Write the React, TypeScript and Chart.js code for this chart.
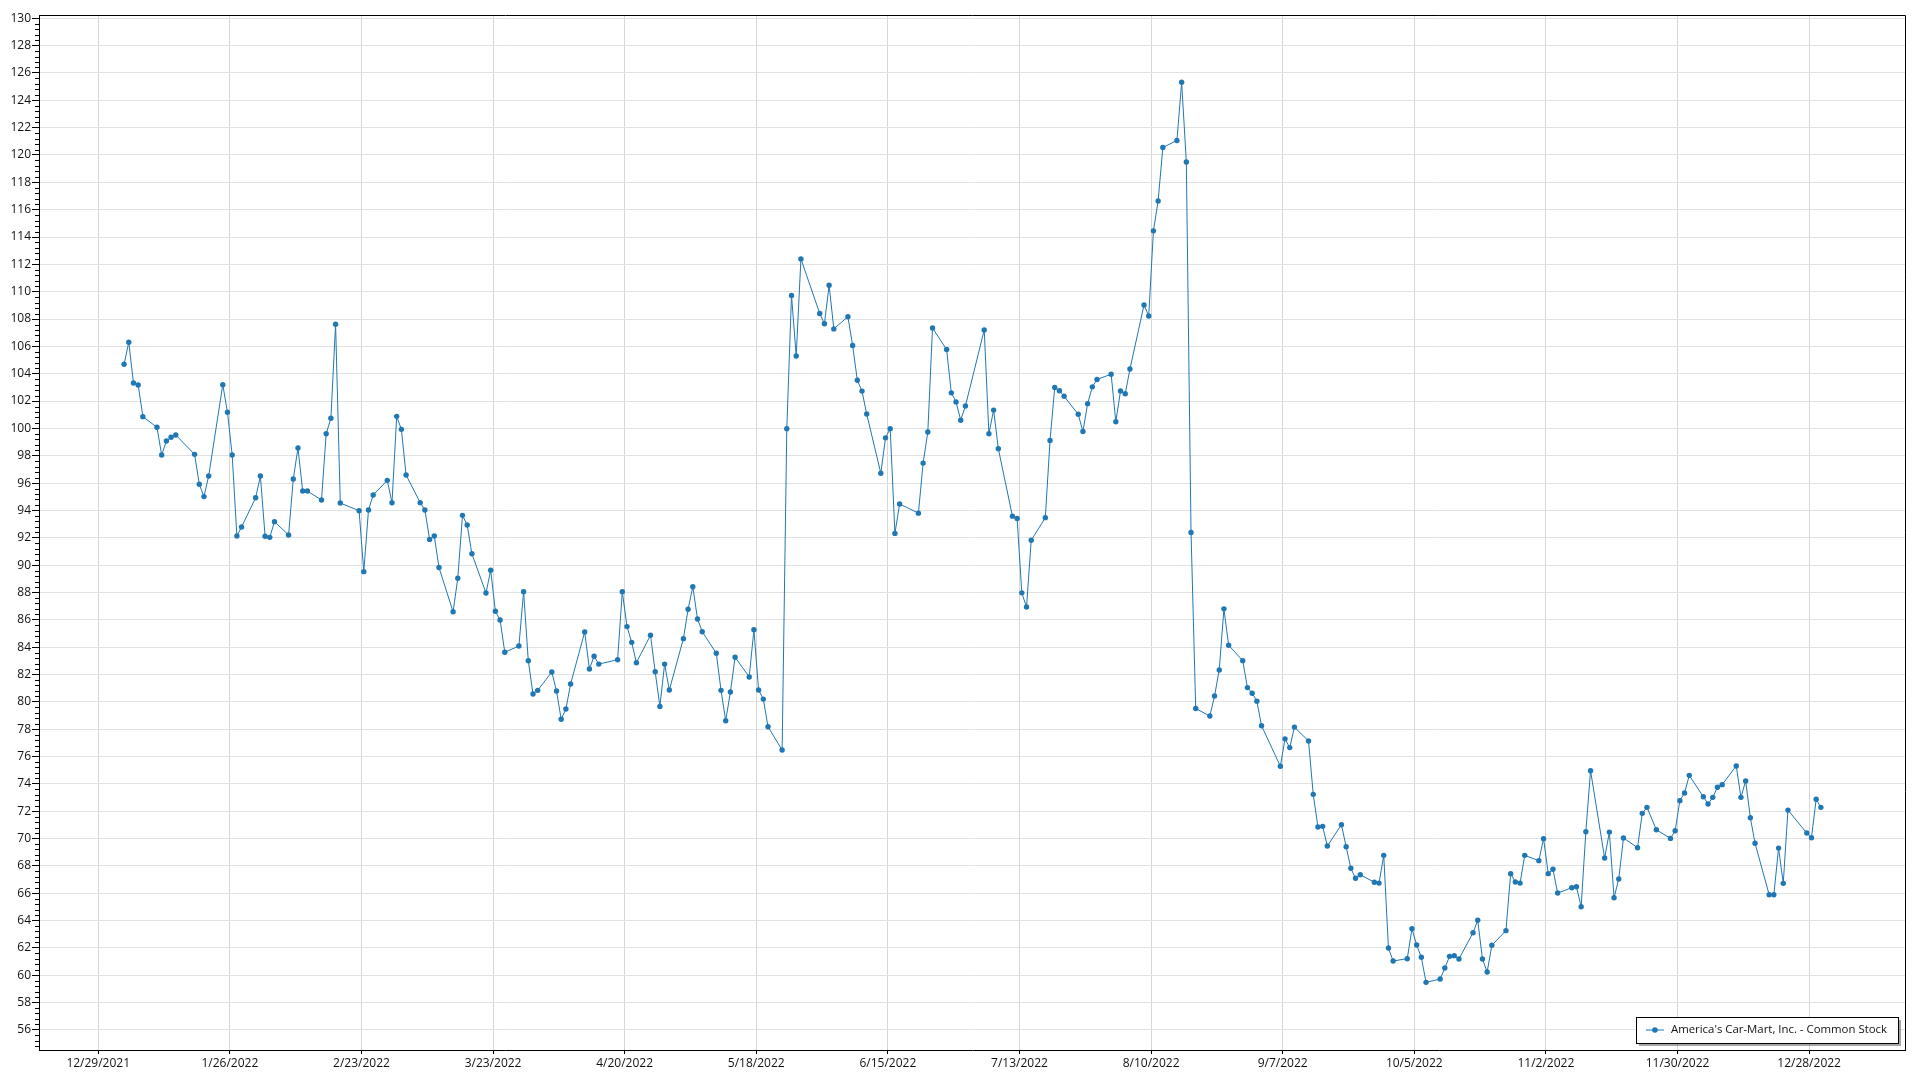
import React, { useEffect, useRef } from "react";
import { Chart, registerables } from "chart.js";

Chart.register(...registerables);

const SERIES_LABEL = "America's Car-Mart, Inc. - Common Stock";
const SERIES_COLOR = "#1f77b4";
const FONT = "'Open Sans', 'Noto Sans', sans-serif";

// Trading days of 2022 (MM-DD)
const tradeDates2022: string[] = [
  "01-03","01-04","01-05","01-06","01-07","01-10","01-11","01-12","01-13","01-14","01-18","01-19","01-20","01-21","01-24","01-25","01-26","01-27","01-28","01-31",
  "02-01","02-02","02-03","02-04","02-07","02-08","02-09","02-10","02-11","02-14","02-15","02-16","02-17","02-18","02-22","02-23","02-24","02-25","02-28",
  "03-01","03-02","03-03","03-04","03-07","03-08","03-09","03-10","03-11","03-14","03-15","03-16","03-17","03-18","03-21","03-22","03-23","03-24","03-25","03-28","03-29","03-30","03-31",
  "04-01","04-04","04-05","04-06","04-07","04-08","04-11","04-12","04-13","04-14","04-18","04-19","04-20","04-21","04-22","04-25","04-26","04-27","04-28","04-29",
  "05-02","05-03","05-04","05-05","05-06","05-09","05-10","05-11","05-12","05-13","05-16","05-17","05-18","05-19","05-20","05-23","05-24","05-25","05-26","05-27","05-31",
  "06-01","06-02","06-03","06-06","06-07","06-08","06-09","06-10","06-13","06-14","06-15","06-16","06-17","06-21","06-22","06-23","06-24","06-27","06-28","06-29","06-30",
  "07-01","07-05","07-06","07-07","07-08","07-11","07-12","07-13","07-14","07-15","07-18","07-19","07-20","07-21","07-22","07-25","07-26","07-27","07-28","07-29",
  "08-01","08-02","08-03","08-04","08-05","08-08","08-09","08-10","08-11","08-12","08-15","08-16","08-17","08-18","08-19","08-22","08-23","08-24","08-25","08-26","08-29","08-30","08-31",
  "09-01","09-02","09-06","09-07","09-08","09-09","09-12","09-13","09-14","09-15","09-16","09-19","09-20","09-21","09-22","09-23","09-26","09-27","09-28","09-29","09-30",
  "10-03","10-04","10-05","10-06","10-07","10-10","10-11","10-12","10-13","10-14","10-17","10-18","10-19","10-20","10-21","10-24","10-25","10-26","10-27","10-28","10-31",
  "11-01","11-02","11-03","11-04","11-07","11-08","11-09","11-10","11-11","11-14","11-15","11-16","11-17","11-18","11-21","11-22","11-23","11-25","11-28","11-29","11-30",
  "12-01","12-02","12-05","12-06","12-07","12-08","12-09","12-12","12-13","12-14","12-15","12-16","12-19","12-20","12-21","12-22","12-23","12-27","12-28","12-29","12-30",
];

// Closing prices
const closePrices: number[] = [
  104.69, 106.30, 103.32, 103.18, 100.86,
  100.08, 98.05, 99.08, 99.35, 99.52,
  98.10, 95.91, 95.01, 96.52,
  103.20, 101.18, 98.05, 92.13, 92.79,
  94.93, 96.52, 92.11, 92.03, 93.18,
  92.20, 96.30, 98.57, 95.42, 95.42,
  94.76, 99.61, 100.74, 107.62, 94.54,
  93.98, 89.52, 94.03, 95.13,
  96.20, 94.56, 100.88, 99.93, 96.59,
  94.57, 94.03, 91.88, 92.13, 89.82,
  86.59, 89.04, 93.64, 92.93, 90.83,
  87.96, 89.62, 86.62, 85.98, 83.62,
  84.08, 88.05, 83.01, 80.57, 80.84,
  82.18, 80.79, 78.72, 79.47, 81.30,
  85.11, 82.40, 83.33, 82.76,
  83.08, 88.05, 85.50, 84.35, 82.86,
  84.87, 82.20, 79.66, 82.76, 80.86,
  84.62, 86.77, 88.42, 86.06, 85.13,
  83.55, 80.84, 78.62, 80.72, 83.26,
  81.82, 85.28, 80.86, 80.20, 78.18,
  76.47, 99.98, 109.73, 105.30, 112.40,
  108.41, 107.65, 110.47, 107.28,
  108.17, 106.07, 103.52, 102.73, 101.05,
  96.72, 99.31, 99.98, 92.32, 94.47,
  93.80, 97.46, 99.74, 107.35,
  105.77, 102.60, 101.94, 100.60, 101.64,
  107.20, 99.61, 101.34, 98.52,
  93.58, 93.41, 87.97, 86.93, 91.82,
  93.47, 99.11, 103.00, 102.75, 102.35,
  101.03, 99.77, 101.81, 103.04, 103.58,
  103.96, 100.49, 102.74, 102.53, 104.34,
  109.03, 108.22, 114.45, 116.64, 120.55,
  121.06, 125.32, 119.49, 92.38, 79.51,
  78.96, 80.42, 82.33, 86.80, 84.14,
  83.01, 81.04, 80.63, 80.05, 78.25,
  75.29, 77.29, 76.65, 78.15,
  77.13, 73.23, 70.84, 70.89, 69.45,
  71.01, 69.40, 67.82, 67.09, 67.35,
  66.80, 66.74, 68.77, 61.99, 61.04,
  61.21, 63.40, 62.21, 61.31, 59.48,
  59.72, 60.53, 61.38, 61.43, 61.19,
  63.11, 64.02, 61.19, 60.24, 62.19,
  63.26, 67.43, 66.82, 66.74, 68.77,
  68.38, 69.99, 67.43, 67.75, 66.01,
  66.40, 66.47, 65.01, 70.50, 74.96,
  68.57, 70.47, 65.67, 67.04, 70.04,
  69.33, 71.84, 72.28, 70.64,
  70.01, 70.57, 72.77, 73.33, 74.62,
  73.06, 72.53, 73.01, 73.75, 73.94,
  75.31, 73.01, 74.21, 71.52, 69.65,
  65.89, 65.89, 69.30, 66.72, 72.08,
  70.40, 70.06, 72.87, 72.28,
];

const xTickLabels: string[] = [
  "12/29/2021", "1/26/2022", "2/23/2022", "3/23/2022", "4/20/2022", "5/18/2022", "6/15/2022",
  "7/13/2022", "8/10/2022", "9/7/2022", "10/5/2022", "11/2/2022", "11/30/2022", "12/28/2022",
];

const yTickValues: number[] = [
  56, 58, 60, 62, 64, 66, 68, 70, 72, 74, 76, 78, 80, 82, 84, 86, 88, 90, 92,
  94, 96, 98, 100, 102, 104, 106, 108, 110, 112, 114, 116, 118, 120, 122, 124, 126, 128, 130,
];

const ORIGIN_MS = Date.UTC(2021, 11, 29);
const DAY_MS = 86400000;

function dayFromMDY(s: string): number {
  const [m, d, y] = s.split("/").map(Number);
  return (Date.UTC(y, m - 1, d) - ORIGIN_MS) / DAY_MS;
}
function dayFrom2022(s: string): number {
  const [m, d] = s.split("-").map(Number);
  // quotes stamped at noon
  return (Date.UTC(2022, m - 1, d) - ORIGIN_MS) / DAY_MS + 0.5;
}

const xTickDays = xTickLabels.map(dayFromMDY);

const frame = {
  id: "frame",
  afterDraw(chart: any) {
    const { ctx, chartArea } = chart;
    const y = chart.scales.y;
    ctx.save();
    ctx.strokeStyle = "#000";
    ctx.lineWidth = 1;
    // top & right borders
    ctx.beginPath();
    ctx.moveTo(chartArea.left, chartArea.top + 0.5);
    ctx.lineTo(chartArea.right + 0.5, chartArea.top + 0.5);
    ctx.lineTo(chartArea.right + 0.5, chartArea.bottom);
    ctx.stroke();
    // minor y ticks (5 subdivisions)
    ctx.beginPath();
    const majors = yTickValues;
    const step = (majors[1] - majors[0]) / 5;
    const first = majors[0] - 5 * step;
    for (let v = first; v <= y.max + 1e-6; v += step) {
      if (v < y.min) continue;
      const rel = Math.round((v - majors[0]) / step);
      if (rel % 5 === 0) continue;
      const p = Math.round(y.getPixelForValue(v)) + 0.5;
      ctx.moveTo(chartArea.left - 4, p);
      ctx.lineTo(chartArea.left, p);
    }
    ctx.stroke();

    // legend box bottom-right
    const label = chart.data.datasets[0].label;
    ctx.font = `11.4px ${FONT}`;
    const tw = ctx.measureText(label).width;
    const bw = tw + 46;
    const bh = 26;
    const bx = chartArea.right - 7 - bw;
    const by = chartArea.bottom - 7 - bh;
    ctx.fillStyle = "rgba(0,0,0,0.35)";
    ctx.fillRect(bx + 3, by + 3, bw, bh);
    ctx.fillStyle = "#fff";
    ctx.fillRect(bx, by, bw, bh);
    ctx.strokeStyle = "#000";
    ctx.strokeRect(Math.round(bx) + 0.5, Math.round(by) + 0.5, Math.round(bw), bh);
    const cy = by + bh / 2;
    ctx.strokeStyle = SERIES_COLOR;
    ctx.beginPath();
    ctx.moveTo(bx + 10, cy);
    ctx.lineTo(bx + 28, cy);
    ctx.stroke();
    ctx.fillStyle = SERIES_COLOR;
    ctx.beginPath();
    ctx.arc(bx + 19, cy, 2.8, 0, Math.PI * 2);
    ctx.fill();
    ctx.fillStyle = "#111";
    ctx.textBaseline = "middle";
    ctx.textAlign = "left";
    ctx.fillText(label, bx + 35, cy);
    ctx.restore();
  },
};

export default function App() {
  const ref = useRef<HTMLCanvasElement | null>(null);

  useEffect(() => {
    if (!ref.current) return;
    const points = tradeDates2022.map((d, i) => ({ x: dayFrom2022(d), y: closePrices[i] }));
    const chart = new Chart(ref.current, {
      type: "line",
      data: {
        datasets: [
          {
            label: SERIES_LABEL,
            data: points,
            borderColor: SERIES_COLOR,
            backgroundColor: SERIES_COLOR,
            borderWidth: 1,
            pointRadius: 2.7,
            pointBorderWidth: 0,
            pointBackgroundColor: SERIES_COLOR,
            tension: 0,
          },
        ],
      },
      options: {
        animation: false,
        responsive: false,
        devicePixelRatio: 1,
        events: [],
        layout: { padding: { left: 0, top: 15, right: 15, bottom: 0 } },
        plugins: {
          legend: { display: false },
          tooltip: { enabled: false },
          title: { display: false },
        },
        scales: {
          x: {
            type: "linear",
            min: -12.6,
            max: 384.4,
            afterFit: (s: any) => { s.height = 30; },
            afterBuildTicks: (s: any) => { s.ticks = xTickDays.map((v) => ({ value: v })); },
            ticks: {
              autoSkip: false,
              maxRotation: 0,
              padding: 2,
              color: "#111",
              font: { family: FONT, size: 12 },
              callback: (_v: any, i: number) => xTickLabels[i],
            },
            grid: {
              color: "#d6d6d6",
              tickColor: "#000",
              tickLength: 4,
              lineWidth: 1,
            },
            border: { display: true, color: "#000", width: 1 },
          },
          y: {
            type: "linear",
            min: 54.53,
            max: 130.24,
            afterFit: (s: any) => { s.width = 39; },
            afterBuildTicks: (s: any) => { s.ticks = yTickValues.map((v) => ({ value: v })); },
            ticks: {
              autoSkip: false,
              padding: 1,
              color: "#111",
              font: { family: FONT, size: 12 },
              callback: (v: any) => String(v),
            },
            grid: {
              color: "#e2e2e2",
              tickColor: "#000",
              tickLength: 7,
              lineWidth: 1,
            },
            border: { display: true, color: "#000", width: 1 },
          },
        },
      },
      plugins: [frame],
    } as any);
    return () => chart.destroy();
  }, []);

  return (
    <div style={{ position: "absolute", left: 0, top: 0, width: 1920, height: 1080, background: "#fff" }}>
      <canvas ref={ref} width={1920} height={1080} style={{ width: 1920, height: 1080, display: "block" }} />
    </div>
  );
}
